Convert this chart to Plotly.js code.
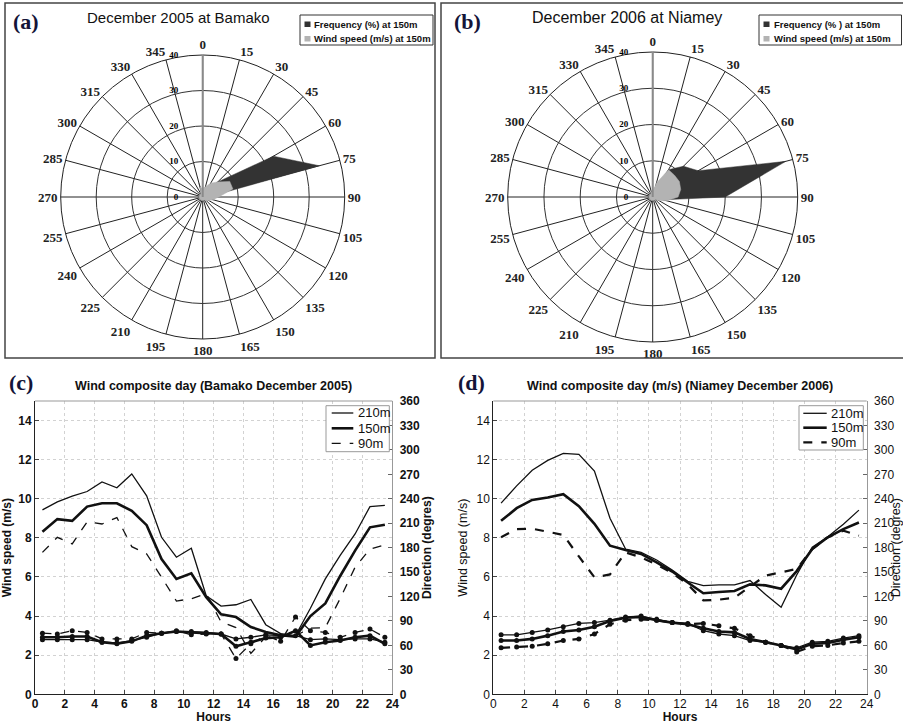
<!DOCTYPE html>
<html><head><meta charset="utf-8">
<script src="https://cdn.plot.ly/plotly-3.0.1.min.js"></script>
<style>html,body{margin:0;padding:0;background:#fff;}#chart{width:903px;height:724px;}</style>
</head><body><div id="chart"></div>
<script>
// ---- Polar (wind rose) data ----
const directions = [0,15,30,45,60,75,90,105,120,135,150,165,180,195,210,225,240,255,270,285,300,315,330,345];
const directionLabels = ["0","15","30","45","60","75","90","105","120","135","150","165","180","195","210","225","240","255","270","285","300","315","330","345"];
const radialTicks = [0,10,20,30,40];
const radialLabels = ["0","10","20","30","40"];
const freqBamako = [1,1,2,6,23,34,1.5,0.5,0.3,0.3,0.3,0.3,0.3,0.3,0.3,0.3,0.3,0.3,0.3,0.3,0.3,0.3,0.3,4];
const windBamako = [2.5,3,4.5,6,8.8,8.8,4.5,3,2,1.5,1,1,1,1,1,1,1,1,1,1,1,1,1,3];
const freqNiamey = [1,2,8.7,12,14.5,38,20,3,1,0.3,0.3,0.3,0.3,0.3,0.3,0.3,0.3,0.3,0.3,0.3,0.3,0.3,0.3,1];
const windNiamey = [1.5,4,8.7,8.5,8.5,8,7,4,2,1,1,1,1,1,1,1,1,1,1,1,1,1,1,1.5];

// ---- Composite day data ----
const hours = [0.5,1.5,2.5,3.5,4.5,5.5,6.5,7.5,8.5,9.5,10.5,11.5,12.5,13.5,14.5,15.5,16.5,17.5,18.5,19.5,20.5,21.5,22.5,23.5];
const hourTicks = [0,2,4,6,8,10,12,14,16,18,20,22,24];
const speedTicks = [0,2,4,6,8,10,12,14];
const dirTicks = [0,30,60,90,120,150,180,210,240,270,300,330,360];
const heightNames = ['210m','150m','90m'];

const spdC210 = [9.43,9.84,10.13,10.37,10.86,10.56,11.27,10.15,8.03,7.01,7.47,5.04,4.51,4.58,4.85,3.56,3.1,3.0,4.4,5.9,7.1,8.2,9.6,9.66];
const spdC150 = [8.31,8.96,8.87,9.6,9.77,9.77,9.38,8.65,6.92,5.9,6.19,4.97,4.09,3.95,3.44,3.19,3.02,2.95,4.0,4.65,6.05,7.35,8.54,8.67];
const spdC90  = [7.26,8.03,7.69,8.82,8.71,9.04,7.55,7.18,5.99,4.77,4.89,5.14,3.7,3.41,2.09,2.94,3.0,3.0,3.38,3.41,4.9,6.5,7.43,7.64];
const dirC210 = [67,67,67,67,64,63,66,70,75,77,77,76,74,68,70,73,72,72,67,68,67,68,68,64];
const dirC150 = [70,70,71,71,64,62,65,72,75,77,76,75,74,59,64,69,70,78,60,64,66,70,72,62];
const dirC90  = [75,74,78,76,68,68,68,76,75,78,73,74,74,44,62,72,65,95,78,76,70,76,80,70];

const spdD210 = [9.78,10.66,11.46,11.96,12.32,12.27,11.42,9.0,7.43,7.26,6.87,6.35,5.78,5.56,5.6,5.6,5.82,5.1,4.45,6.1,7.52,8.06,8.7,9.42];
const spdD150 = [8.87,9.52,9.94,10.06,10.23,9.62,8.72,7.6,7.38,7.18,6.75,6.28,5.72,5.17,5.23,5.28,5.62,5.57,5.4,6.3,7.43,8.03,8.45,8.79];
const spdD90  = [8.03,8.45,8.47,8.3,8.15,7.05,5.98,6.13,7.26,7.0,6.63,6.2,5.62,4.8,4.84,4.94,5.52,6.07,6.24,6.41,7.43,8.03,8.37,8.11];
const dirD210 = [73,73,76,79,83,87,88,91,95,96,92,88,87,78,74,72,66,64,60,57,64,65,69,72];
const dirD150 = [66,66,68,72,77,79,83,90,94,95,91,88,86,81,77,76,68,64,60,55,62,63,67,70];
const dirD90  = [57,58,59,62,66,68,74,86,91,92,91,88,86,87,84,81,72,64,60,52,59,60,63,65];

const W = 903, H = 724;
const px = v => v / W;
const py = v => 1 - v / H;

const INK = '#111';
const sans = 'Liberation Sans, Arial, sans-serif';
const serif = 'Liberation Serif, Times New Roman, serif';

const stylesC = {
  '210m': {width: 1.3, dash: 'solid'},
  '150m': {width: 2.6, dash: 'solid'},
  '90m':  {width: 1.3, dash: 'dash'}
};
const stylesD = {
  '210m': {width: 1.3, dash: 'solid'},
  '150m': {width: 2.6, dash: 'solid'},
  '90m':  {width: 2.2, dash: 'dash'}
};

function speed(y, name, xa, ya, st) {
  const s = st[name];
  return {type:'scatter', x: hours, y: y, name: name, mode:'lines', xaxis: xa, yaxis: ya, showlegend:false,
          line: {color: INK, width: s.width, dash: s.dash}, hoverinfo:'skip'};
}
function direction(y, name, xa, ya, st) {
  const s = st[name];
  return {type:'scatter', x: hours, y: y, name: name + ' dir', mode:'lines+markers', xaxis: xa, yaxis: ya,
          showlegend:false, line: {color: INK, width: s.width, dash: s.dash},
          marker: {size: 5, color: INK}, hoverinfo:'skip'};
}
function rose(r, sub, color) {
  return {type:'scatterpolar', subplot: sub, r: r, theta: directions, mode:'lines', fill:'toself',
          fillcolor: color, line: {color: color, width: 0.5}, showlegend:false, hoverinfo:'skip'};
}

const traces = [
  rose(freqBamako, 'polar', '#333333'),
  rose(windBamako, 'polar', '#b3b3b3'),
  rose(freqNiamey, 'polar2', '#333333'),
  rose(windNiamey, 'polar2', '#b3b3b3'),
  speed(spdC210, '210m', 'x', 'y', stylesC),
  speed(spdC150, '150m', 'x', 'y', stylesC),
  speed(spdC90, '90m', 'x', 'y', stylesC),
  direction(dirC210, '210m', 'x', 'y2', stylesC),
  direction(dirC150, '150m', 'x', 'y2', stylesC),
  direction(dirC90, '90m', 'x', 'y2', stylesC),
  speed(spdD210, '210m', 'x2', 'y3', stylesD),
  speed(spdD150, '150m', 'x2', 'y3', stylesD),
  speed(spdD90, '90m', 'x2', 'y3', stylesD),
  direction(dirD210, '210m', 'x2', 'y4', stylesD),
  direction(dirD150, '150m', 'x2', 'y4', stylesD),
  direction(dirD90, '90m', 'x2', 'y4', stylesD)
];

// pad radial labels so they sit just left of the vertical axis line
const NB = '\u00a0';
const radialText = radialLabels.map(t => t + NB.repeat(9));

function polarLayout(dom) {
  return {
    domain: dom, bgcolor:'#fff',
    angularaxis: {rotation:90, direction:'clockwise', tickmode:'array', tickvals: directions, ticktext: directionLabels,
      tickfont:{family: serif, size:13, weight:'bold', color:'#222'}, ticks:'', showline:true, linecolor:'#222',
      linewidth:1, showgrid:true, gridcolor:'#222', gridwidth:1, layer:'above traces'},
    radialaxis: {range:[0,40], tickmode:'array', tickvals: radialTicks, ticktext: radialText, angle:90,
      side:'counterclockwise', tickangle:90,
      tickfont:{family: serif, size:9, weight:'bold', color:'#000'}, ticks:'', showline:true, linecolor:'#8a8a8a',
      linewidth:2, showgrid:true, gridcolor:'#333', gridwidth:1, layer:'above traces'}
  };
}

const tickFontC = {family: sans, size:12, color: INK, weight:'bold'};
const tickFontD = {family: sans, size:12, color: INK};
const titleFont = {family: sans, size:12, color: INK, weight:'bold'};
const titleFontD = {family: sans, size:12.5, color: INK};

function xAx(dom, anchor, tf, tt) {
  return {domain: dom, anchor: anchor, range:[0,24], tickmode:'array', tickvals: hourTicks, showline:true, linecolor:'#222',
    linewidth:1, ticks:'inside', ticklen:4, tickcolor:'#444', showgrid:true, gridcolor:'#d2d2d2', griddash:'dot',
    zeroline:false, tickfont: tf, ticklabelstandoff:-2, title:{text:'Hours', font: tt, standoff:0}};
}
function yAx(dom, anchor, tf, tt) {
  return {domain: dom, anchor: anchor, range:[0,15], tickmode:'array', tickvals: speedTicks, showline:true, linecolor:'#222',
    linewidth:1, ticks:'inside', ticklen:4, tickcolor:'#444', showgrid:true, gridcolor:'#d2d2d2', griddash:'dot',
    zeroline:false, tickfont: tf, title:{text:'Wind speed (m/s)', font: tt, standoff:6}};
}
function y2Ax(over, anchor, tf, tt) {
  return {overlaying: over, anchor: anchor, side:'right', range:[0,360], tickmode:'array', tickvals: dirTicks,
    showgrid:false, showline:true, linecolor:'#999', linewidth:1, ticks:'inside', ticklen:4, tickcolor:'#666',
    zeroline:false, tickfont: tf, ticklabelstandoff:4, title:{text:'Direction (degres)', font: tt, standoff:2}};
}

const yDom = [py(694.3), py(401)];

function rectP(x0, x1, y0, y1, extra) {
  return Object.assign({type:'rect', xref:'paper', yref:'paper', x0: px(x0), x1: px(x1), y0: py(y1), y1: py(y0)}, extra);
}

const shapes = [
  rectP(5, 435, 3, 358, {line:{color:'#444', width:1.5}}),
  rectP(441, 910, 3, 358, {line:{color:'#444', width:1.5}}),
  rectP(300, 433, 15, 45, {line:{color:'#333', width:1}}),
  rectP(759, 901.5, 15, 45, {line:{color:'#333', width:1}}),
  rectP(304.5, 310.5, 21.5, 27, {fillcolor:'#333', line:{width:0}}),
  rectP(304.5, 310.5, 36, 41.5, {fillcolor:'#b3b3b3', line:{width:0}}),
  rectP(763.5, 769.5, 21.5, 27, {fillcolor:'#333', line:{width:0}}),
  rectP(763.5, 769.5, 36, 41.5, {fillcolor:'#b3b3b3', line:{width:0}}),
  {type:'line', xref:'x domain', yref:'y domain', x0:0, x1:1, y0:1, y1:1, line:{color:'#999', width:1}},
  {type:'line', xref:'x2 domain', yref:'y3 domain', x0:0, x1:1, y0:1, y1:1, line:{color:'#999', width:1}},
  // line-chart legend boxes
  rectP(326, 389.3, 405.7, 451.7, {fillcolor:'#fff', line:{color:'#999', width:1}}),
  rectP(799, 863.3, 405.7, 450, {fillcolor:'#fff', line:{color:'#999', width:1}})
];

function ann(text, x, y, font, xanchor) {
  return {text: text, xref:'paper', yref:'paper', x: px(x), y: py(y), xanchor: xanchor || 'center', yanchor:'middle',
    showarrow:false, font: font};
}
const legLineFont = {family: sans, size:13, color: INK};
const legRowsC = [413, 428.3, 443.3];
const legRowsD = [413.3, 427.7, 442.3];
heightNames.forEach((n, i) => {
  shapes.push({type:'line', xref:'paper', yref:'paper', x0: px(331.7), x1: px(353.3), y0: py(legRowsC[i]), y1: py(legRowsC[i]),
    line:{color: INK, width: stylesC[n].width, dash: stylesC[n].dash}});
  shapes.push({type:'line', xref:'paper', yref:'paper', x0: px(803.3), x1: px(826.7), y0: py(legRowsD[i]), y1: py(legRowsD[i]),
    line:{color: INK, width: stylesD[n].width, dash: stylesD[n].dash}});
});

const panelFont = {family: serif, size:22, weight:'bold', color:'#141438'};
const legFont = {family: sans, size:9.5, weight:'bold', color:'#111'};
const annotations = [
  ann('(a)', 25.5, 22, panelFont),
  ann('(b)', 467, 22, panelFont),
  ann('(c)', 21, 382, panelFont),
  ann('(d)', 472, 382, panelFont),
  ann('December 2005 at Bamako', 178, 18, {family: sans, size:15, color:'#111'}),
  ann('December 2006 at Niamey', 627, 18, {family: sans, size:16, color:'#111'}),
  ann('Frequency (%) at 150m', 311.5, 24, legFont, 'left'),
  ann('Wind speed (m/s) at 150m', 311.5, 38.7, legFont, 'left'),
  ann('Frequency (% ) at 150m', 771.5, 24, legFont, 'left'),
  ann('Wind speed (m/s) at 150m', 771.5, 38.7, legFont, 'left'),
  ann('Wind composite day (Bamako December 2005)', 213.3, 386, {family: sans, size:12.5, weight:'bold', color: INK}),
  ann('Wind composite day (m/s) (Niamey December 2006)', 679.5, 386, {family: sans, size:12.5, weight:'bold', color: INK})
];
heightNames.forEach((n, i) => {
  annotations.push(ann(n, 356, legRowsC[i], legLineFont, 'left'));
  annotations.push(ann(n, 829, legRowsD[i], legLineFont, 'left'));
});

const layout = {
  width: W, height: H, margin:{l:0, r:0, t:0, b:0}, paper_bgcolor:'#fff', plot_bgcolor:'#fff',
  font:{family: sans, color: INK}, showlegend:false,
  polar: polarLayout({x:[px(60.7), px(344.7)], y:[py(339), py(55)]}),
  polar2: polarLayout({x:[px(507.7), px(797.7)], y:[py(342), py(52)]}),
  xaxis: xAx([px(35), px(392.3)], 'y', tickFontC, titleFont),
  yaxis: yAx(yDom, 'x', tickFontC, titleFont),
  yaxis2: y2Ax('y', 'x', tickFontC, titleFont),
  xaxis2: xAx([px(493.3), px(866.7)], 'y3', tickFontD, titleFont),
  yaxis3: yAx(yDom, 'x2', tickFontD, titleFontD),
  yaxis4: y2Ax('y3', 'x2', tickFontD, titleFontD),
  shapes: shapes,
  annotations: annotations
};

Plotly.newPlot('chart', traces, layout, {displayModeBar:false, staticPlot:true});
</script>
</body></html>
